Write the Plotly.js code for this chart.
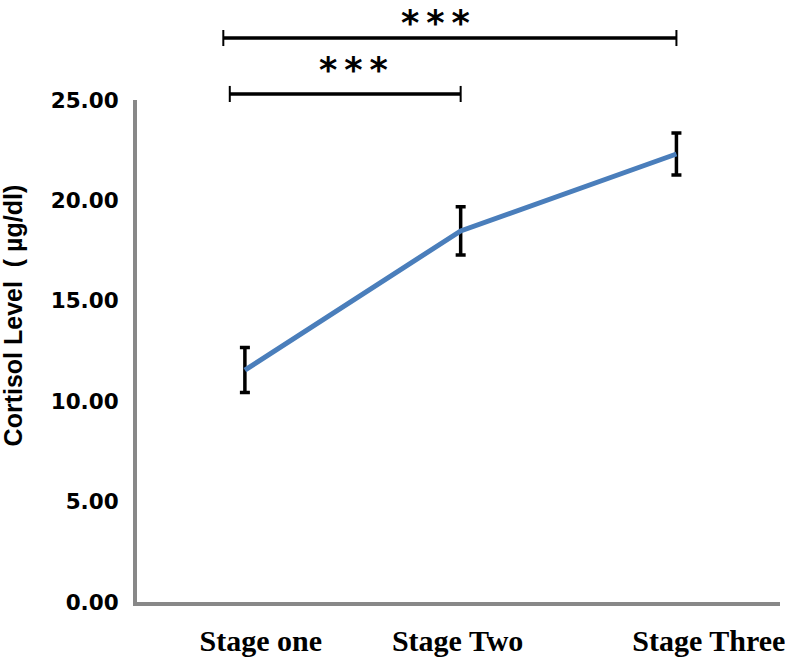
<!DOCTYPE html>
<html>
<head>
<meta charset="utf-8">
<script src="https://cdn.plot.ly/plotly-3.0.1.min.js"></script>
<style>html,body{margin:0;padding:0;background:#fff;}#chart{width:785px;height:661px;}</style>
</head>
<body>
<div id="chart"></div>
<script>
const categories = ["Stage one", "Stage Two", "Stage Three"];
const stageIndex = [0, 1, 2];
const cortisol = [11.55, 18.48, 22.31];
const cortisolErr = [1.12, 1.2, 1.05];
const yTickVals = [0, 5, 10, 15, 20, 25];
const yTickText = ["0.00", "5.00", "10.00", "15.00", "20.00", "25.00"];
const labelPos = [0.074, 0.986, 2.15];
const yTitle = "Cortisol Level  ( µg/dl)";
// significance comparisons
const sigStart = [-0.1, -0.07];
const sigEnd = [2.0, 1.0];
const sigLevel = [1.1235, 1.012];
const sigText = ["*\u2009*\u2009*", "*\u2009*\u2009*"];
const sigTextX = [0.885, 0.505];
const sigTextY = [1.198, 1.059];
const sigTextAnchor = ['top', 'middle'];

const trace = {
  x: stageIndex, y: cortisol, type: 'scatter', mode: 'lines',
  line: {color: '#4A7EBB', width: 5},
  error_y: {type: 'data', array: cortisolErr, visible: true, color: '#000', thickness: 3.5, width: 5},
  hoverinfo: 'skip', showlegend: false
};

const shapes = [];
const annotations = [];
for (let i = 0; i < sigStart.length; i++) {
  shapes.push({type: 'line', xref: 'x', yref: 'paper', x0: sigStart[i], x1: sigEnd[i], y0: sigLevel[i], y1: sigLevel[i], line: {color: '#000', width: 3.5}});
  shapes.push({type: 'line', xref: 'x', yref: 'paper', x0: sigStart[i], x1: sigStart[i], y0: sigLevel[i] - 0.016, y1: sigLevel[i] + 0.016, line: {color: '#000', width: 2}});
  shapes.push({type: 'line', xref: 'x', yref: 'paper', x0: sigEnd[i], x1: sigEnd[i], y0: sigLevel[i] - 0.016, y1: sigLevel[i] + 0.016, line: {color: '#000', width: 2}});
  annotations.push({xref: 'x', yref: 'paper', x: sigTextX[i], y: sigTextY[i], yanchor: sigTextAnchor[i], xanchor: 'center', text: sigText[i], showarrow: false,
    font: {family: 'DejaVu Sans, sans-serif', size: 35, color: '#000', weight: 'bold'}});
}
annotations.push({xref: 'paper', yref: 'paper', x: -0.1928, y: 0.571, xanchor: 'center', yanchor: 'middle', textangle: -90,
  text: yTitle, showarrow: false, font: {family: 'Liberation Sans, Arial, sans-serif', size: 25, color: '#000', weight: 'bold'}});

const layout = {
  width: 785, height: 661,
  margin: {l: 137, r: 5, t: 100, b: 59},
  paper_bgcolor: '#fff', plot_bgcolor: '#fff',
  showlegend: false,
  xaxis: {
    range: [-0.5, 2.48], tickvals: labelPos, ticktext: categories,
    showgrid: false, zeroline: false, showline: true, linecolor: '#888', linewidth: 4,
    ticks: '', ticklabelstandoff: 9, ticklabeloverflow: 'allow',
    tickfont: {family: 'Liberation Serif, Times New Roman, serif', size: 30, color: '#000', weight: 'bold'}
  },
  yaxis: {
    range: [0, 25], tickvals: yTickVals, ticktext: yTickText,
    showgrid: false, zeroline: false, showline: true, linecolor: '#888', linewidth: 4,
    ticks: '', ticklabelstandoff: 10, ticklabeloverflow: 'allow',
    tickfont: {family: 'DejaVu Sans, Verdana, sans-serif', size: 21.5, color: '#000', weight: 'bold'}
  },
  shapes: shapes,
  annotations: annotations
};

Plotly.newPlot('chart', [trace], layout, {displayModeBar: false, staticPlot: true});
</script>
</body>
</html>
